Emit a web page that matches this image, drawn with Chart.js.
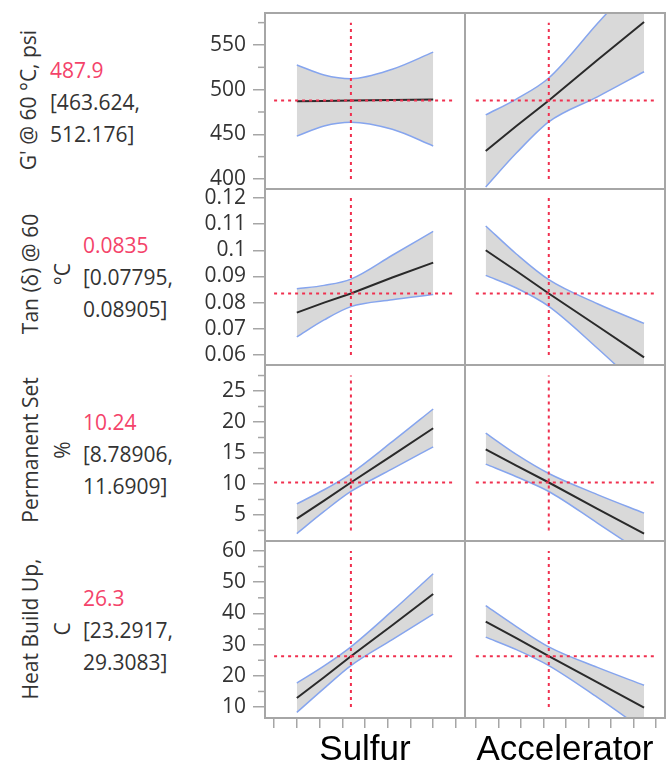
<!DOCTYPE html>
<html lang="en">
<head>
  <meta charset="UTF-8" />
  <title>Prediction Profiler</title>
  <script src="https://cdn.jsdelivr.net/npm/chart.js"></script>
  <style>
    body {
      margin: 0;
      background: #ffffff;
      font-family: "Open Sans", sans-serif;
    }
    #page {
      position: relative;
      width: 669px;
      height: 773px;
      overflow: hidden;
    }
    .panel {
      position: absolute;
    }
    .resp {
      position: absolute;
      transform: translate(-50%, -50%) rotate(-90deg);
      white-space: nowrap;
      text-align: center;
      font-size: 21px;
      line-height: 32px;
      color: #333;
    }
    .pred {
      position: absolute;
      font-size: 21px;
      line-height: 32px;
      color: #333;
      white-space: nowrap;
    }
    .pred .val {
      color: #f4436a;
    }
  </style>
</head>
<body>
  <div id="page"></div>

  <script>
    const factors = ["Sulfur", "Accelerator"];
    const responses = [["G' @ 60 °C, psi"], ["Tan (δ) @ 60", "°C"], ["Permanent Set", "%"], ["Heat Build Up,", "C"]];
    const predicted = [487.9, 0.0835, 10.24, 26.3];
    const ciLow = [463.624, 0.07795, 8.78906, 23.2917];
    const ciHigh = [512.176, 0.08905, 11.6909, 29.3083];

    const xTicks = [0, 1, 2, 3, 4, 5, 6, 7, 8];
    const xRange = [[-0.4, 8.4], [-0.48, 8.4]];
    const currentX = [3.38, 3.24];
    const sulfurX = [1, 2.2, 3.38, 5.2, 7];
    const accelX = [0.44, 1.8, 3.24, 5.4, 7.47];

    const yMajor = [
      [400, 450, 500, 550],
      [0.06, 0.07, 0.08, 0.09, 0.1, 0.11, 0.12],
      [5, 10, 15, 20, 25],
      [10, 20, 30, 40, 50, 60]
    ];
    const yMinor = [
      [425, 475, 525, 575],
      [],
      [2.5, 7.5, 12.5, 17.5, 22.5, 27.5],
      [15, 25, 35, 45, 55]
    ];
    const yRange = [[388.8, 585.8], [0.0562, 0.1234], [0.8, 29.2], [6.5, 63.2]];

    // [Sulfur, Accelerator]
    const gMean = [[487, 487.3, 487.9, 488.4, 489], [431.4, 459.3, 487.9, 533.1, 575.7]];
    const gUpper = [[527.6, 516.4, 512.2, 522.8, 542], [471.7, 489.5, 513, 574, 631.4]];
    const gLower = [[448, 459.4, 463.6, 455.6, 437], [391, 429, 464, 492, 520]];

    const tanMean = [[0.0762, 0.08, 0.0835, 0.0896, 0.0953], [0.1, 0.0921, 0.0835, 0.0711, 0.0591]];
    const tanUpper = [[0.0853, 0.0866, 0.089, 0.0981, 0.1072], [0.1093, 0.0986, 0.0888, 0.0796, 0.0721]];
    const tanLower = [[0.0669, 0.0734, 0.0785, 0.0811, 0.0831], [0.0904, 0.0856, 0.0786, 0.0626, 0.0461]];

    const permMean = [[4.4, 7.32, 10.24, 14.63, 19], [15.6, 12.97, 10.24, 5.99, 2]];
    const permUpper = [[6.8, 9.07, 11.69, 16.83, 22.1], [18.2, 14.77, 11.69, 8.29, 5.3]];
    const permLower = [[2, 5.57, 8.79, 12.43, 16], [13.2, 11.17, 8.79, 3.69, -1.3]];

    const heatMean = [[12.9, 19.56, 26.3, 36.2, 46.2], [37.4, 32.06, 26.3, 17.93, 9.8]];
    const heatUpper = [[17.7, 23.2, 29.31, 40.8, 52.7], [42.5, 35.8, 29.31, 22.7, 17]];
    const heatLower = [[8.3, 16, 23.29, 31.6, 39.8], [32.4, 28.4, 23.29, 13.1, 2.6]];

    const means = [gMean, tanMean, permMean, heatMean];
    const uppers = [gUpper, tanUpper, permUpper, heatUpper];
    const lowers = [gLower, tanLower, permLower, heatLower];
    const factorX = [sulfurX, accelX];

    // ---- layout ----
    const rowTop = [13, 189, 365, 541];
    const rowH = [176, 176, 176, 177];
    const pad = 25;
    const labelCenter = [[28, 100], [46, 274], [46, 450], [46, 629]];
    const predPos = [[50, 54], [83, 229], [83, 406], [83, 582]];

    const blue = "#86a5ee";
    const red = "#f0304f";
    const frameColor = "#a6a6a6";
    const page = document.getElementById("page");

    const framePlugin = {
      id: "frame",
      afterDraw(chart, args, opts) {
        const { ctx, chartArea: a } = chart;
        const y = chart.scales.y;
        ctx.save();
        ctx.strokeStyle = frameColor;
        ctx.lineWidth = 1.5;
        if (y.options.display) {
          (opts.minor || []).forEach(v => {
            const py = y.getPixelForValue(v);
            ctx.beginPath();
            ctx.moveTo(a.left - 7, py);
            ctx.lineTo(a.left, py);
            ctx.stroke();
          });
        }
        ctx.lineWidth = 2;
        ctx.strokeRect(a.left, a.top, a.right - a.left, a.bottom - a.top);
        ctx.restore();
      }
    };

    function pts(xs, ys) {
      return xs.map((x, i) => ({ x, y: ys[i] }));
    }

    function makePanel(r, c) {
      const last = r === 3;
      const showY = c === 0;
      const div = document.createElement("div");
      div.className = "panel";
      div.style.left = (c === 0 ? 165 : 460) + "px";
      div.style.width = (c === 0 ? 305 : 210) + "px";
      div.style.top = (rowTop[r] - pad) + "px";
      div.style.height = (last ? 773 - (rowTop[r] - pad) : rowH[r] + 2 * pad) + "px";
      const canvas = document.createElement("canvas");
      div.appendChild(canvas);
      page.appendChild(div);

      const xs = factorX[c];
      const majors = yMajor[r];
      const allTicks = majors.concat(yMinor[r]);
      const tickLo = Math.min(...allTicks);
      const tickHi = Math.max(...allTicks);

      new Chart(canvas, {
        type: "line",
        data: {
          datasets: [
            {
              data: [{ x: xTicks[0], y: predicted[r] }, { x: xTicks[xTicks.length - 1], y: predicted[r] }],
              borderColor: red, borderWidth: 2, borderDash: [3, 4]
            },
            {
              data: [{ x: currentX[c], y: tickLo }, { x: currentX[c], y: tickHi }],
              borderColor: red, borderWidth: 2, borderDash: [3, 4]
            },
            {
              data: pts(xs, means[r][c]),
              borderColor: "#2a2a2a", borderWidth: 2
            },
            {
              data: pts(xs, uppers[r][c]),
              borderColor: blue, borderWidth: 1.5,
              fill: "+1", backgroundColor: "#d9d9d9",
              cubicInterpolationMode: "monotone"
            },
            {
              data: pts(xs, lowers[r][c]),
              borderColor: blue, borderWidth: 1.5,
              cubicInterpolationMode: "monotone"
            }
          ]
        },
        options: {
          responsive: true,
          maintainAspectRatio: false,
          animation: false,
          events: [],
          elements: { point: { radius: 0 } },
          layout: {
            padding: { left: c === 0 ? 0 : 5, right: 5, top: pad, bottom: last ? 0 : pad }
          },
          plugins: {
            legend: { display: false },
            tooltip: { enabled: false },
            filler: { drawTime: "beforeDatasetsDraw" },
            frame: { minor: yMinor[r] }
          },
          scales: {
            x: {
              type: "linear",
              min: xRange[c][0],
              max: xRange[c][1],
              display: last,
              afterBuildTicks: ax => { ax.ticks = xTicks.map(v => ({ value: v })); },
              afterFit: ax => { if (last) ax.height = 55; },
              grid: { drawOnChartArea: false, tickLength: 10, color: frameColor, lineWidth: 1.5 },
              border: { display: false },
              ticks: { display: false },
              title: {
                display: true,
                text: factors[c],
                color: "#000",
                font: { family: "Liberation Sans", size: 35 },
                padding: { top: 0, bottom: 2 }
              }
            },
            y: {
              type: "linear",
              min: yRange[r][0],
              max: yRange[r][1],
              display: showY,
              afterBuildTicks: ax => { ax.ticks = majors.map(v => ({ value: v })); },
              afterFit: ax => { if (showY) ax.width = 100; },
              grid: { drawOnChartArea: false, tickLength: 12, color: frameColor, lineWidth: 1.5 },
              border: { display: false },
              ticks: {
                autoSkip: false,
                padding: 7,
                color: "#333",
                font: { family: "Open Sans", size: 21 },
                callback: v => String(v)
              }
            }
          }
        },
        plugins: [framePlugin]
      });
    }

    function makeLabels(r) {
      const lab = document.createElement("div");
      lab.className = "resp";
      lab.style.left = labelCenter[r][0] + "px";
      lab.style.top = labelCenter[r][1] + "px";
      lab.innerHTML = responses[r].join("<br>");
      page.appendChild(lab);

      const p = document.createElement("div");
      p.className = "pred";
      p.style.left = predPos[r][0] + "px";
      p.style.top = predPos[r][1] + "px";
      p.innerHTML = '<span class="val">' + predicted[r] + "</span><br>[" + ciLow[r] + ",<br>" + ciHigh[r] + "]";
      page.appendChild(p);
    }

    for (let r = 0; r < 4; r++) {
      makeLabels(r);
      makePanel(r, 0);
      makePanel(r, 1);
    }
  </script>
</body>
</html>
